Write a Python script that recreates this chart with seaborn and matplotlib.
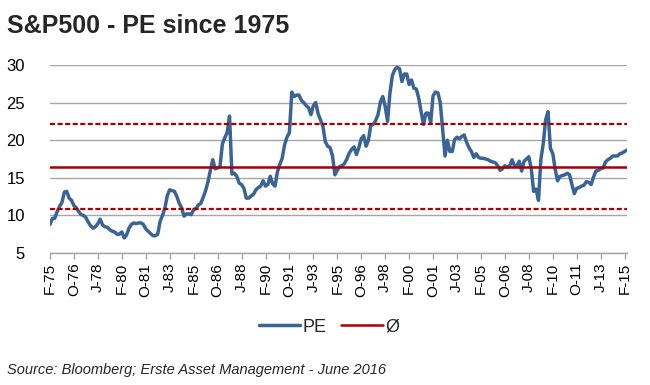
import pandas as pd
import seaborn as sns
import matplotlib.pyplot as plt
from matplotlib.lines import Line2D


# ==================== Data ====================

# S&P500 PE, one reading every two months starting Feb 1975
pe = [
    8.8, 9.6, 9.6, 10.5, 11.2, 11.7, 13.1, 13.2, 12.3, 12.0,
    11.3, 11.0, 10.5, 10.1, 10.0, 9.7, 9.1, 8.6, 8.3, 8.5,
    8.9, 9.5, 8.7, 8.5, 8.4, 8.1, 7.9, 7.8, 7.5, 7.5,
    7.8, 7.0, 7.4, 8.3, 8.8, 9.0, 8.9, 9.0, 9.0, 8.8,
    8.2, 7.9, 7.6, 7.3, 7.3, 7.5, 9.2, 10.0, 11.0, 12.6,
    13.4, 13.3, 13.2, 12.5, 11.6, 11.0, 9.9, 10.2, 10.2, 10.1,
    10.8, 10.9, 11.4, 11.6, 12.4, 13.3, 14.5, 16.0, 17.4, 16.2,
    16.3, 16.5, 19.5, 20.3, 21.0, 23.2, 15.5, 15.6, 15.2, 14.3,
    14.1, 13.6, 12.3, 12.3, 12.6, 12.8, 13.4, 13.7, 13.9, 14.6,
    13.9, 14.1, 15.2, 14.2, 13.9, 15.8, 16.8, 17.6, 19.4, 20.4,
    21.0, 26.4, 25.8, 26.0, 26.0, 25.3, 25.0, 24.6, 24.3, 23.4,
    24.6, 25.0, 23.5, 22.7, 21.8, 19.8, 19.2, 19.0, 17.9, 15.4,
    16.0, 16.5, 16.6, 16.9, 17.5, 18.3, 18.8, 19.1, 18.1, 19.0,
    20.2, 20.6, 19.2, 20.0, 22.0, 22.1, 22.6, 23.4, 25.1, 25.8,
    24.5, 22.5, 26.3, 28.6, 29.4, 29.7, 29.5, 27.8, 28.8, 28.8,
    27.4, 28.0, 26.9, 26.8, 25.6, 23.8, 22.1, 23.6, 23.6, 22.4,
    25.9, 26.4, 26.3, 25.0, 21.5, 17.9, 20.0, 18.5, 18.5, 20.1,
    20.4, 20.2, 20.5, 20.7, 19.7, 19.0, 18.5, 17.7, 18.2, 17.7,
    17.6, 17.6, 17.5, 17.4, 17.2, 17.1, 17.0, 16.6, 16.0, 16.2,
    16.6, 16.4, 16.6, 17.4, 16.6, 16.6, 17.2, 15.9, 17.2,
    17.5, 17.8, 16.2, 13.2, 13.5, 12.0, 17.4, 19.5, 22.7, 23.8,
    18.9, 18.2, 16.1, 14.6, 15.2, 15.3, 15.4, 15.6, 15.4, 14.1,
    12.9, 13.6, 13.7, 13.9, 14.0, 14.5, 14.4, 14.1, 15.1, 15.9,
    16.0, 16.2, 16.3, 17.1, 17.4, 17.6, 17.9, 17.9, 17.9, 18.2,
    18.3, 18.5, 18.7,
]
pe_avg = 16.5
pe_upper = 22.1
pe_lower = 10.9

dates = pd.date_range("1975-02-01", periods=len(pe), freq="2MS")
data = pd.DataFrame({"date": dates, "PE": pe})

tick_dates = pd.date_range("1975-02-01", "2015-02-01", freq="20MS")
tick_labels = [d.strftime("%b")[0] + "-" + d.strftime("%y") for d in tick_dates]

blue = "#3A6496"
red = "#A80000"
grey = "#A6A6A6"


# ==================== Plot ====================

sns.set_theme(style="white")
plt.rcParams["font.family"] = ["Liberation Sans", "DejaVu Sans"]

fig = plt.figure(figsize=(6.5, 3.85), dpi=100)
ax = fig.add_axes([50 / 650, 1 - 253 / 385, 577 / 650, 188 / 385])

sns.lineplot(data, x="date", y="PE", color=blue, linewidth=2.5, ax=ax, zorder=3)
ax.axhline(pe_avg, color=red, linewidth=1.8, zorder=4)
ax.axhline(pe_upper, color=red, linewidth=1.6, linestyle=(0, (2.3, 1.1)), zorder=4)
ax.axhline(pe_lower, color=red, linewidth=1.6, linestyle=(0, (2.3, 1.1)), zorder=4)

ax.set_xlim(dates[0], dates[-1])
ax.set_ylim(5, 30)
ax.set_yticks(range(5, 31, 5))
ax.set_xticks(tick_dates)
ax.set_xticklabels(tick_labels, rotation=90)
ax.set_xlabel("")
ax.set_ylabel("")

ax.grid(axis="y", color=grey, linewidth=1)
ax.grid(axis="x", visible=False)
for side in ["top", "right", "left"]:
    ax.spines[side].set_visible(False)
ax.spines["bottom"].set_color(grey)
ax.spines["bottom"].set_linewidth(1)

ax.tick_params(axis="x", bottom=True, direction="out", length=4, width=1,
               color=grey, labelsize=11, pad=3, labelcolor="black")
ax.tick_params(axis="y", left=False, labelsize=12, pad=12, labelcolor="black")

# ---------- Title, legend and source
fig.text(7 / 650, 1 - 33 / 385, "S&P500 - PE since 1975", fontsize=18,
         fontweight="bold", va="baseline", ha="left")

handles = [Line2D([], [], color=blue, linewidth=2.5),
           Line2D([], [], color=red, linewidth=1.8)]
fig.legend(handles, ["PE", "Ø"], loc="center", bbox_to_anchor=(329 / 650, 1 - 327 / 385),
           ncol=2, frameon=False, fontsize=13, handlelength=2.3, handletextpad=0.15,
           columnspacing=0.8)

fig.text(7 / 650, 1 - 374 / 385, "Source: Bloomberg; Erste Asset Management - June 2016",
         fontsize=10.5, style="italic", va="baseline", ha="left")

plt.savefig("out.png", dpi=100)
